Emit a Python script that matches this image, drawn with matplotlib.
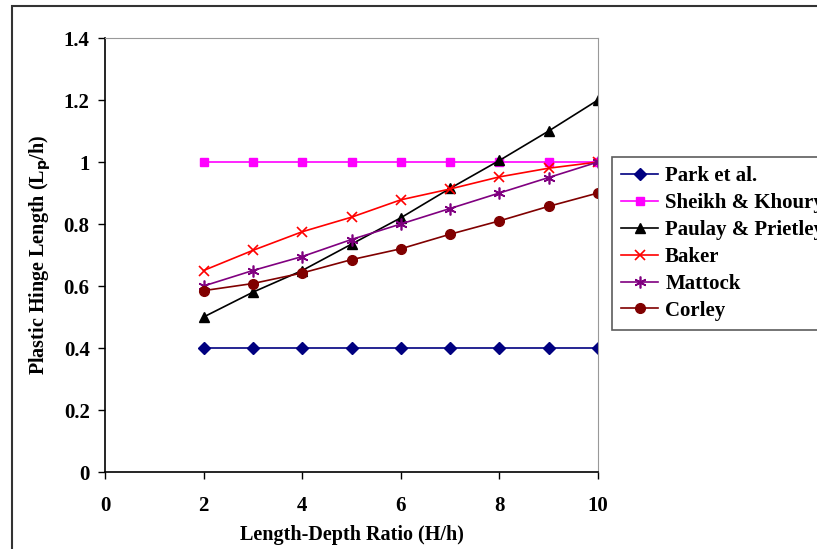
import numpy as np
import matplotlib
matplotlib.use('Agg')
import matplotlib.pyplot as plt
from matplotlib.patches import Rectangle

# data
ratio = [2, 3, 4, 5, 6, 7, 8, 9, 10]
park = [0.4, 0.4, 0.4, 0.4, 0.4, 0.4, 0.4, 0.4, 0.4]
sheikh = [1.0, 1.0, 1.0, 1.0, 1.0, 1.0, 1.0, 1.0, 1.0]
paulay = [0.5, 0.58, 0.65, 0.735, 0.82, 0.915, 1.005, 1.1, 1.2]
baker = [0.65, 0.715, 0.775, 0.822, 0.878, 0.913, 0.952, 0.98, 1.0]
mattock = [0.6, 0.65, 0.695, 0.75, 0.8, 0.85, 0.9, 0.95, 1.0]
corley = [0.585, 0.608, 0.642, 0.685, 0.72, 0.767, 0.81, 0.857, 0.9]

xticks = [0, 2, 4, 6, 8, 10]
yticks = [0, 0.2, 0.4, 0.6, 0.8, 1, 1.2, 1.4]
yticklabels = ['0', '0.2', '0.4', '0.6', '0.8', '1', '1.2', '1.4']

plt.rcParams['font.family'] = ['Liberation Serif', 'DejaVu Serif']
plt.rcParams['font.weight'] = 'bold'

fig = plt.figure(figsize=(8.17, 5.49), dpi=100)
ax = fig.add_axes([105/817., 1 - 472/549., (598-105)/817., (472-38)/549.])

# outer chart border
fig.patches.append(Rectangle((12/817., -0.1), 1.2, 1.1 - 6/549., transform=fig.transFigure,
                             fill=False, edgecolor='#333333', linewidth=1.5))

ax.plot(ratio, park, color='#000080', marker='D', markersize=6, lw=1.2, label='Park et al.')
ax.plot(ratio, sheikh, color='#FF00FF', marker='s', markersize=6, lw=1.2, label='Sheikh & Khoury')
ax.plot(ratio, paulay, color='black', marker='^', markersize=7, lw=1.2, label='Paulay & Prietley')
ax.plot(ratio, baker, color='#FF0000', marker='x', markersize=7.5, mew=1.2, lw=1.2, label='Baker')
ax.plot(ratio, mattock, color='#800080', marker=(6, 2, 0), markersize=8.5, mew=1.2, lw=1.2, label='Mattock')
ax.plot(ratio, corley, color='#800000', marker='o', markersize=7, lw=1.2, label='Corley')

ax.set_xlim(0, 10)
ax.set_ylim(0, 1.4)
ax.set_xticks(xticks)
ax.set_yticks(yticks)
ax.set_yticklabels(yticklabels)
ax.tick_params(direction='out', length=5, width=1, labelsize=15)
ax.tick_params(axis='x', pad=12)
ax.tick_params(axis='y', pad=6)
for side in ['top', 'right']:
    ax.spines[side].set_color('#999999')
for side in ['left', 'bottom']:
    ax.spines[side].set_color('black')
    ax.spines[side].set_linewidth(1.2)

ax.set_xlabel('Length-Depth Ratio (H/h)', fontsize=14.5, fontweight='bold')
ax.xaxis.set_label_coords(0.5, -0.122)
ax.set_ylabel(r'Plastic Hinge Length (L$_\mathbf{p}$/h)', fontsize=14.5, fontweight='bold', labelpad=8)

leg = fig.legend(loc='upper left', bbox_to_anchor=(612/817., 1 - 157/549.), fontsize=15,
                 frameon=True, fancybox=False, borderaxespad=0, handlelength=1.75,
                 labelspacing=0.33, borderpad=0.45, handletextpad=0.35)
leg.get_frame().set_edgecolor('#333333')
leg.get_frame().set_linewidth(1.2)

fig.savefig('out.png', dpi=100)
